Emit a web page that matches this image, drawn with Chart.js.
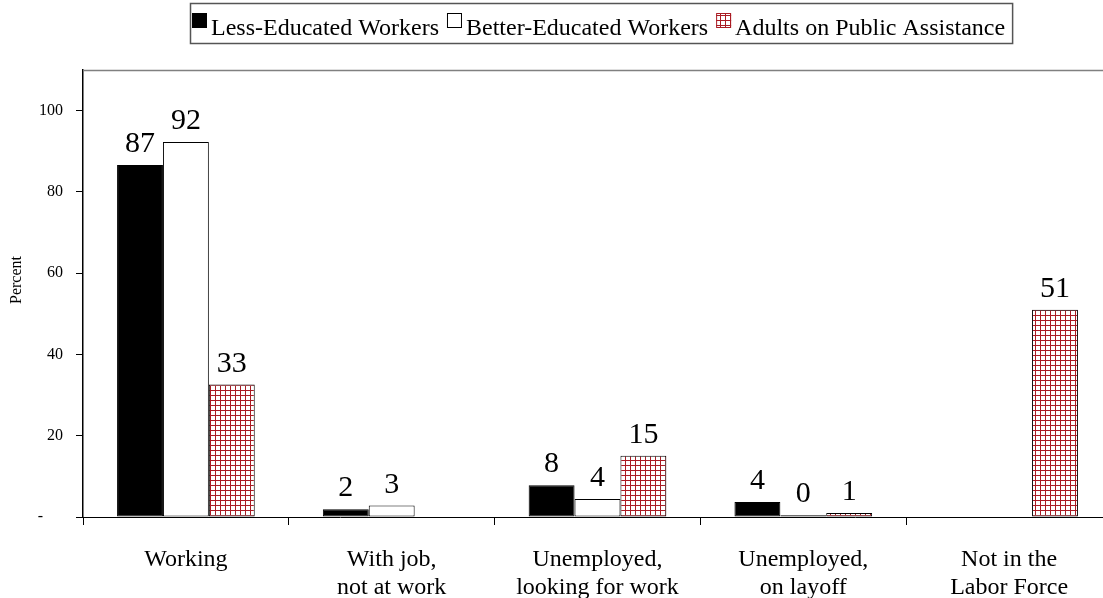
<!DOCTYPE html>
<html>
<head>
<meta charset="utf-8">
<script src="https://cdn.jsdelivr.net/npm/chart.js@4.4.0/dist/chart.umd.min.js"></script>
<style>
  html, body { margin: 0; padding: 0; background: #fff; overflow: hidden; }
  #wrap { width: 1112px; height: 598px; }
</style>
</head>
<body>
<div id="wrap"><canvas id="chart" width="1112" height="598"></canvas></div>
<script>
// Categories along the x axis (multi-line labels)
const categories = [
    ['Working'],
    ['With job,', 'not at work'],
    ['Unemployed,', 'looking for work'],
    ['Unemployed,', 'on layoff'],
    ['Not in the', 'Labor Force']
];

// Series values (percent); null = no bar
const lessEducated = [86.6, 1.9, 7.8, 3.7, null];
const betterEducated = [92.3, 2.8, 4.4, 0.4, null];
const publicAssistance = [32.6, null, 15.1, 1.0, 51.0];

const seriesNames = ['Less-Educated Workers', 'Better-Educated Workers', 'Adults on Public Assistance'];

// Y axis ticks and their labels
const yTicks = [0, 20, 40, 60, 80, 100];
const yTickLabels = ['-     ', '20', '40', '60', '80', '100'];

const FONT = 'Liberation Serif';

/**
 * Builds the small red grid fill used for the public assistance bars.
 */
function makeGridPattern() {
    const c = document.createElement('canvas');
    c.width = 5;
    c.height = 5;
    const g = c.getContext('2d');
    g.fillStyle = '#ffffff';
    g.fillRect(0, 0, 5, 5);
    g.fillStyle = 'rgb(170, 28, 36)';
    g.fillRect(0, 0, 5, 1);
    g.fillRect(0, 0, 1, 5);
    return g.createPattern(c, 'repeat');
}

const gridFill = makeGridPattern();
const fills = ['#000000', '#ffffff', gridFill];

// Draws the rounded value above every bar
const valueLabels = {
    id: 'valueLabels',
    afterDatasetsDraw(chart) {
        const ctx = chart.ctx;
        ctx.save();
        ctx.font = `30px "${FONT}"`;
        ctx.fillStyle = '#000';
        ctx.textAlign = 'center';
        ctx.textBaseline = 'alphabetic';
        chart.data.datasets.forEach((ds, i) => {
            const meta = chart.getDatasetMeta(i);
            meta.data.forEach((bar, j) => {
                const v = ds.data[j];
                if (v === null || v === undefined) return;
                ctx.fillText(String(Math.round(v)), bar.x, bar.y - 13);
            });
        });
        ctx.restore();
    }
};

// Frame line on top of the plot, the y title and the boxed legend
const frameAndLegend = {
    id: 'frameAndLegend',
    afterDraw(chart) {
        const ctx = chart.ctx;
        const area = chart.chartArea;
        ctx.save();
        ctx.strokeStyle = '#808080';
        ctx.lineWidth = 1.5;
        ctx.beginPath();
        ctx.moveTo(area.left, area.top + 0.5);
        ctx.lineTo(area.right, area.top + 0.5);
        ctx.lineTo(area.right, area.bottom);
        ctx.stroke();

        // y axis title, sitting a little above the middle like the original
        ctx.save();
        ctx.translate(17, 280);
        ctx.rotate(-Math.PI / 2);
        ctx.font = `16px "${FONT}"`;
        ctx.fillStyle = '#000';
        ctx.textAlign = 'center';
        ctx.textBaseline = 'middle';
        ctx.fillText('Percent', 0, 0);
        ctx.restore();

        // legend
        ctx.font = `24px "${FONT}"`;
        ctx.textBaseline = 'alphabetic';
        ctx.textAlign = 'left';
        let x = 192;
        const boxTop = 13, boxSize = 15;
        seriesNames.forEach((name, i) => {
            ctx.fillStyle = fills[i];
            ctx.fillRect(x, boxTop, boxSize, boxSize);
            ctx.strokeStyle = i === 2 ? 'rgb(170, 28, 36)' : '#000';
            ctx.lineWidth = 1;
            ctx.strokeRect(x + 0.5, boxTop + 0.5, boxSize - 1, boxSize - 1);
            x += boxSize + 4;
            ctx.fillStyle = '#000';
            ctx.fillText(name, x, 35);
            x += ctx.measureText(name).width + 8;
        });
        ctx.strokeStyle = '#555';
        ctx.lineWidth = 1.5;
        ctx.strokeRect(190.5, 3.5, x - 8 + 7 - 190, 40);
        ctx.restore();
    }
};

const ctx = document.getElementById('chart').getContext('2d');
new Chart(ctx, {
    type: 'bar',
    data: {
        labels: categories,
        datasets: seriesNames.map((name, i) => ({
            label: name,
            data: [lessEducated, betterEducated, publicAssistance][i],
            backgroundColor: fills[i],
            borderColor: '#000',
            borderWidth: 1,
            borderSkipped: false,
            categoryPercentage: 0.669,
            barPercentage: 1.0
        }))
    },
    options: {
        responsive: false,
        animation: false,
        layout: { padding: { top: 70, left: 0, right: 0, bottom: 0 } },
        plugins: {
            legend: { display: false },
            tooltip: { enabled: false }
        },
        scales: {
            x: {
                offset: true,
                afterFit: (scale) => { scale.height = 81; },
                grid: {
                    offset: true,
                    drawOnChartArea: false,
                    drawTicks: true,
                    tickLength: 8,
                    color: '#000'
                },
                border: { color: '#000', width: 1 },
                ticks: {
                    color: '#000',
                    padding: 21,
                    maxRotation: 0,
                    autoSkip: false,
                    font: { family: FONT, size: 24, lineHeight: 1.15 }
                }
            },
            y: {
                min: 0,
                max: 110,
                afterFit: (scale) => { scale.width = 83; },
                afterBuildTicks: (scale) => {
                    scale.ticks = yTicks.map(v => ({ value: v }));
                },
                grid: {
                    drawOnChartArea: false,
                    drawTicks: true,
                    tickLength: 7,
                    color: '#000'
                },
                border: { color: '#000', width: 1.5 },
                ticks: {
                    color: '#000',
                    padding: 13,
                    font: { family: FONT, size: 16 },
                    callback: (value) => yTickLabels[yTicks.indexOf(value)]
                }
            }
        }
    },
    plugins: [valueLabels, frameAndLegend]
});
</script>
</body>
</html>
